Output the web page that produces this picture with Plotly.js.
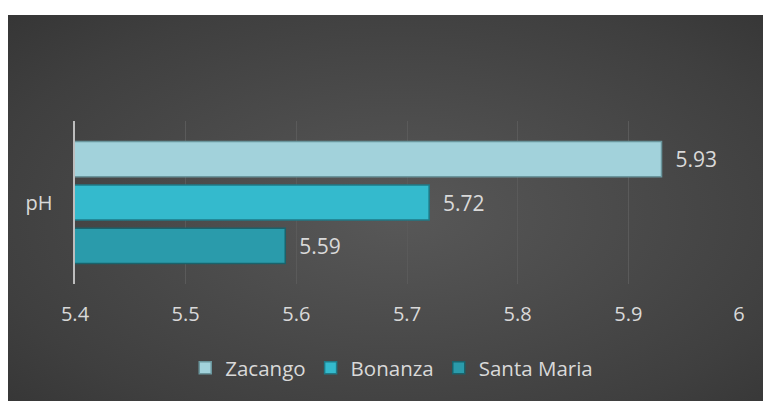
<!DOCTYPE html>
<html>
<head>
<meta charset="utf-8">
<script src="https://cdn.plot.ly/plotly-3.0.1.min.js"></script>
<style>
  html, body { margin: 0; padding: 0; background: #fff; overflow: hidden; }
  #frame {
    position: absolute; left: 8px; top: 15px; width: 800px; height: 420px;
    background: radial-gradient(ellipse 760px 400px at 390px 200px, #585858 0%, #3f3f3f 55%, #262626 100%);
  }
  #chart { width: 755px; height: 386px; }
</style>
</head>
<body>
<div id="frame"><div id="chart"></div></div>
<script>
// --- pH by site ---
const category = ['pH'];
const sites = ['Zacango', 'Bonanza', 'Santa Maria'];
const phValues = [5.93, 5.72, 5.59];
const siteColors = ['#a2d2db', '#34bacd', '#2a9bab'];
const siteEdges = ['#6a969d', '#1f7a87', '#19636c'];
const xTicks = [5.4, 5.5, 5.6, 5.7, 5.8, 5.9, 6];

const textColor = '#d9d9d9';
const fontFam = '"Open Sans", Lato, sans-serif';

// plotly puts the first trace at the bottom, so add them in reverse
const traces = [];
for (let i = sites.length - 1; i >= 0; i--) {
  traces.push({
    type: 'bar',
    orientation: 'h',
    name: sites[i],
    y: category,
    x: [phValues[i]],
    base: 0,
    marker: { color: siteColors[i], line: { color: siteEdges[i], width: 1.5 } },
    text: [phValues[i].toFixed(2)],
    texttemplate: '\u00a0\u00a0%{text}',
    textposition: 'outside',
    textfont: { color: textColor, size: 21, family: fontFam },
    cliponaxis: false,
    hoverinfo: 'skip',
  });
}

const layout = {
  width: 755,
  height: 386,
  paper_bgcolor: 'rgba(0,0,0,0)',
  plot_bgcolor: 'rgba(0,0,0,0)',
  margin: { l: 67, r: 24, t: 106, b: 117 },
  barmode: 'group',
  bargap: 0.2,
  bargroupgap: 0.19,
  font: { family: fontFam, color: textColor, size: 20 },
  xaxis: {
    range: [5.4, 6],
    tickvals: xTicks,
    ticktext: xTicks.map(String),
    showgrid: true,
    gridcolor: '#5a5a5a',
    gridwidth: 1,
    zeroline: false,
    showline: false,
    ticks: '',
    ticklabelstandoff: 16,
    tickfont: { size: 20, color: textColor, family: fontFam },
  },
  yaxis: {
    showline: true,
    linecolor: '#bdbdbd',
    linewidth: 2.5,
    showgrid: false,
    ticks: '',
    ticklabelstandoff: 16,
    tickfont: { size: 20, color: textColor, family: fontFam },
  },
  showlegend: true,
  legend: {
    orientation: 'h',
    traceorder: 'reversed',
    x: 0.477, xanchor: 'center',
    y: -0.515, yanchor: 'middle',
    font: { size: 20.5, color: textColor, family: fontFam },
    itemwidth: 30,
    bgcolor: 'rgba(0,0,0,0)',
  },
};

Plotly.newPlot('chart', traces, layout, { displayModeBar: false, staticPlot: true });
</script>
</body>
</html>
